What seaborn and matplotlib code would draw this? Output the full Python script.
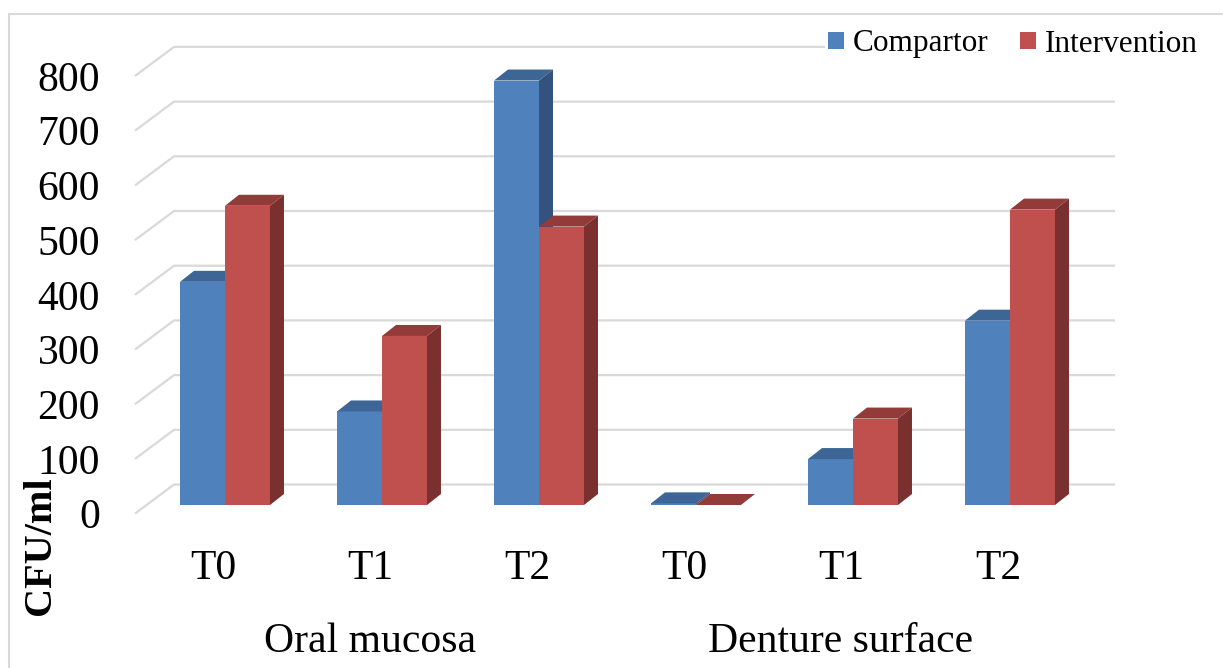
import matplotlib
matplotlib.use("Agg")
import numpy as np
import pandas as pd
import matplotlib.pyplot as plt
import seaborn as sns
from matplotlib.patches import Polygon, Rectangle, Patch
from matplotlib.transforms import ScaledTranslation, blended_transform_factory

# ---------------- data ----------------
sites = ["Oral mucosa", "Denture surface"]
times = ["T0", "T1", "T2"]
groups = ["Compartor", "Intervention"]
compartor = [408, 171, 776, 3, 84, 337]
intervention = [547, 309, 509, 0, 158, 540]
yticks = [0, 100, 200, 300, 400, 500, 600, 700, 800]
ylabel = "CFU/ml"

slots = [f"{s} {t}" for s in sites for t in times]
df = pd.DataFrame({
    "slot": slots * 2,
    "group": [groups[0]] * len(slots) + [groups[1]] * len(slots),
    "cfu": compartor + intervention,
})

# ---------------- style ----------------
BLUE, BLUE_TOP, BLUE_SIDE = "#4F81BD", "#3D6696", "#33537E"
RED, RED_TOP, RED_SIDE = "#C0504D", "#923B38", "#7A302E"
GRID = "#d9d9d9"

sns.set_style("white")
plt.rcParams["font.family"] = ["Liberation Serif", "DejaVu Serif"]
plt.rcParams["text.color"] = "black"
plt.rcParams["xtick.color"] = "black"
plt.rcParams["ytick.color"] = "black"
plt.rcParams["xtick.labelcolor"] = "black"
plt.rcParams["ytick.labelcolor"] = "black"

W, H = 1223, 668
fig = plt.figure(figsize=(W / 100, H / 100), dpi=100)

# layout (pixels)
X0, XU = 225.0, 157.0      # pixel of first category centre, pixels per category
Y0, YU = 505.0, 0.547      # pixel of value 0 on the bar front plane, pixels per unit
AX_L, AX_R, AX_T, AX_B = 100, 1223, 0, 520
ax = fig.add_axes([AX_L / W, 1 - AX_B / H, (AX_R - AX_L) / W, (AX_B - AX_T) / H])
ax.patch.set_alpha(0)

sns.barplot(data=df, x="slot", y="cfu", hue="group", order=slots, hue_order=groups,
            palette=[BLUE, RED], width=0.573, gap=0, saturation=1, errorbar=None,
            legend=False, ax=ax)

ax.set_xlim((AX_L - X0) / XU, (AX_R - X0) / XU)
ax.set_ylim((Y0 - AX_B) / YU, (Y0 - AX_T) / YU)

# 3D-look faces built from the bars seaborn drew
ddx, ddy = 14 / XU, 11 / YU
tops = [BLUE_TOP, RED_TOP]
sides = [BLUE_SIDE, RED_SIDE]
for k, cont in enumerate(ax.containers):
    for p in cont:
        p.set_edgecolor("none")
        p.set_zorder(3 + 2 * k)
        x0, w, h = p.get_x(), p.get_width(), p.get_height()
        top = Polygon([(x0, h), (x0 + w, h), (x0 + w + ddx, h + ddy), (x0 + ddx, h + ddy)],
                      closed=True, facecolor=tops[k], edgecolor="none", zorder=3.5 + 2 * k)
        side = Polygon([(x0 + w, 0), (x0 + w + ddx, ddy), (x0 + w + ddx, h + ddy), (x0 + w, h)],
                       closed=True, facecolor=sides[k], edgecolor="none", zorder=3.5 + 2 * k)
        ax.add_patch(top)
        ax.add_patch(side)

# back-wall gridlines with slanted floor/side segments
gx = [(135 - X0) / XU, (174 - X0) / XU, (1115 - X0) / XU]
front_off = (Y0 - 513.6) / YU
back_off = (Y0 - 484.5) / YU
for v in yticks:
    ax.plot(gx, [v + front_off, v + back_off, v + back_off], color=GRID, lw=1.6,
            zorder=1, clip_on=False, solid_capstyle="butt")

# axes / ticks
sns.despine(ax=ax, left=True, bottom=True)
ax.set_xlabel("")
ax.set_ylabel("")
ax.set_yticks(yticks)
ax.set_yticklabels([str(v) for v in yticks], fontsize=30, color="black")
ax.set_xticks(range(len(slots)))
ax.set_xticklabels(times * len(sites), fontsize=30, color="black")
ax.tick_params(axis="y", length=0, pad=0)
ax.tick_params(axis="x", length=0, pad=21)
ydown = ScaledTranslation(0, -8.6 / 100, fig.dpi_scale_trans)
for lab in ax.get_yticklabels():
    lab.set_transform(lab.get_transform() + ydown)
xleft = ScaledTranslation(-12 / 100, 0, fig.dpi_scale_trans)
for lab in ax.get_xticklabels():
    lab.set_transform(lab.get_transform() + xleft)

# site (group) labels
trans = blended_transform_factory(ax.transData, fig.transFigure)
for i, s in enumerate(sites):
    xc = i * len(times) + (len(times) - 1) / 2
    ax.text(xc, 1 - 642 / H, s, transform=trans + xleft, ha="center", va="center",
            fontsize=30, color="black")

# y label
fig.text(40 / W, 1 - 546 / H, ylabel, rotation=90, fontweight="bold", fontsize=29,
         ha="center", va="center", color="black")

# legend
handles = [Patch(facecolor=BLUE, edgecolor="none"), Patch(facecolor=RED, edgecolor="none")]
leg = fig.legend(handles, groups, loc="center right", bbox_to_anchor=(1217 / W, 1 - 44 / H),
                 ncol=2, frameon=True, facecolor="white", edgecolor="none", framealpha=1,
                 borderpad=0.1, fontsize=22.5, handlelength=0.5, handleheight=0.5,
                 handletextpad=0.3, columnspacing=1.0)
for t in leg.get_texts():
    t.set_color("black")

# outer chart border
fig.patches.append(Rectangle((8.5 / W, -0.1), 1.2, 1 - 14.5 / H + 0.1, transform=fig.transFigure,
                             fill=False, edgecolor=GRID, lw=1.5, zorder=0))

fig.savefig("out.png", dpi=100)
